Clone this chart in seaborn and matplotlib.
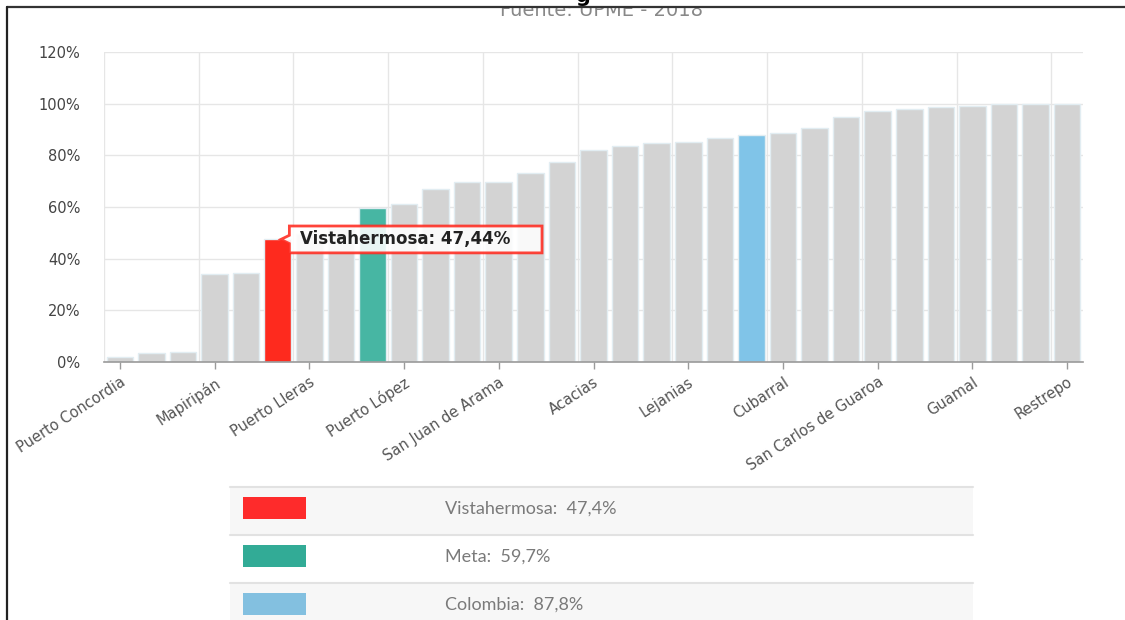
"""plot.py

Cobertura por municipio del Meta (Fuente: UPME - 2018), ordenada de menor a mayor,
con Vistahermosa, Meta y Colombia resaltados.
"""

# Third-party imports
import matplotlib.pyplot as plt
import matplotlib.patches as mpatches
import matplotlib.lines as mlines
from matplotlib.path import Path
import numpy as np
import seaborn as sns

# Data
municipios = ['Puerto Concordia', 'La Macarena', 'Uribe', 'Mapiripán', 'Puerto Gaitán',
              'Vistahermosa', 'Puerto Lleras', 'Puerto Rico', 'Meta', 'Puerto López',
              'Mesetas', 'El Dorado', 'San Juan de Arama', 'El Castillo', 'Cabuyaro',
              'Acacias', 'Fuente de Oro', 'Granada', 'Lejanias', 'San Martín',
              'Colombia', 'Cubarral', 'Barranca de Upía', 'El Calvario', 'San Carlos de Guaroa',
              'San Juanito', 'Cumaral', 'Guamal', 'Castilla La Nueva', 'Villavicencio',
              'Restrepo']
cobertura = [1.8, 3.6, 4.0, 34.1, 34.6,
             47.44, 49.5, 52.0, 59.7, 61.2,
             67.0, 69.6, 69.6, 73.2, 77.6,
             82.1, 83.8, 84.7, 85.2, 86.8,
             87.8, 88.7, 90.5, 94.8, 97.2,
             97.9, 98.8, 99.2, 99.7, 100.0,
             100.0]
etiquetas_y = ['0%', '20%', '40%', '60%', '80%', '100%', '120%']
resaltados = {'Vistahermosa': '#fe2a1e', 'Meta': '#47b6a3', 'Colombia': '#80c4e8'}
leyenda_nombres = ['Vistahermosa', 'Meta', 'Colombia']
leyenda_valores = ['47,4%', '59,7%', '87,8%']
leyenda_colores = ['#fe2b2b', '#32ab96', '#83c0e0']
tooltip_texto = 'Vistahermosa: 47,44%'
fuente = 'Fuente: UPME - 2018'

sns.set_style('white')
plt.rcParams['font.family'] = ['DejaVu Sans']

W, H = 1125, 620
fig = plt.figure(figsize=(W / 100, H / 100), dpi=100)
fig.patch.set_facecolor('white')

# Main chart area
ax = fig.add_axes([104 / W, (H - 362) / H, (1083 - 104) / W, 310 / H])
colores = [resaltados.get(m, '#d3d3d3') for m in municipios]
sns.barplot(x=municipios, y=cobertura, hue=municipios, palette=colores, legend=False,
            width=0.84, edgecolor='#e2edf2', linewidth=1, saturation=1, ax=ax)

ax.set_xlim(-0.5, len(municipios) - 0.5)
ax.set_ylim(0, 120)
ax.set_yticks(range(0, 121, 20))
ax.set_yticklabels(etiquetas_y)
ax.set_xticks(range(0, len(municipios), 3))
ax.set_xticklabels(municipios[::3], rotation=33, ha='right', va='top', rotation_mode='anchor')
ax.set_xticks(np.arange(-0.5, len(municipios), 3), minor=True)
ax.set(xlabel='', ylabel='')

ax.set_axisbelow(True)
ax.yaxis.grid(True, color='#e6e6e6', linewidth=1)
ax.xaxis.grid(True, which='minor', color='#e6e6e6', linewidth=1)
ax.xaxis.grid(False, which='major')
for side in ['left', 'top', 'right']:
    ax.spines[side].set_visible(False)
ax.spines['bottom'].set_color('#9a9a9a')
ax.spines['bottom'].set_linewidth(1.2)

ax.tick_params(axis='y', length=0, pad=17, labelsize=10.5, labelcolor='#444444')
ax.tick_params(axis='x', which='major', length=5, width=1, color='#9a9a9a',
               pad=4, labelsize=10.5, labelcolor='#555555', bottom=True)
ax.tick_params(axis='x', which='minor', length=0)

# Tooltip pointing at the highlighted municipality
idx = municipios.index('Vistahermosa')
val = cobertura[idx]
x0, x1 = idx + 0.37, idx + 8.37
y0, y1 = val - 5.2, val + 5.2
verts = [(x0, y0), (x1, y0), (x1, y1), (x0, y1), (x0, val + 1.6),
         (idx + 0.1, val), (x0, val - 1.6), (x0, y0)]
tooltip = mpatches.PathPatch(Path(verts, closed=True), facecolor='white', alpha=0.88,
                             edgecolor='#ff2a1f', linewidth=2, zorder=5)
ax.add_patch(tooltip)
ax.text(x0 + 0.33, val, tooltip_texto, fontsize=12, fontweight='bold',
        color='#222222', va='center', ha='left', zorder=6)

# Legend table below the chart
leg = fig.add_axes([0, 0, 1, 1], zorder=-1)
leg.set_xlim(0, W)
leg.set_ylim(H, 0)
leg.axis('off')
fondos = ['#f7f7f7', 'white', '#f7f7f7']
for i, (nombre, valor, color) in enumerate(zip(leyenda_nombres, leyenda_valores, leyenda_colores)):
    top = 487 + i * 48
    leg.add_patch(mpatches.Rectangle((230, top), 743, 48, facecolor=fondos[i], edgecolor='none'))
    leg.plot([230, 973], [top, top], color='#e2e2e2', linewidth=1.5)
    leg.add_patch(mpatches.Rectangle((243, top + 10), 63, 22, facecolor=color, edgecolor='none'))
    leg.text(445, top + 22, f'{nombre}:  {valor}', fontsize=13, color='#7a7a7a',
             family=['Lato', 'DejaVu Sans'], va='center', ha='left')

# Cut-off header at the top of the screenshot
fig.text(602 / W, 1 - 15.5 / H, fuente, fontsize=14, color='#888888',
         ha='center', va='baseline', zorder=1)
fig.add_artist(mpatches.Rectangle((0, 1 - 7.5 / H), 1, 7.5 / H, transform=fig.transFigure,
                                  facecolor='white', edgecolor='none', zorder=4))
fig.text(583 / W, 1 - 1.5 / H, 'g', fontsize=15, fontweight='bold', color='black',
         ha='center', va='baseline', zorder=6)

# Screenshot frame
fig.add_artist(mlines.Line2D([7 / W, 1], [1 - 7 / H, 1 - 7 / H], transform=fig.transFigure,
                             color='#333333', linewidth=1.6, zorder=7))
fig.add_artist(mlines.Line2D([7 / W, 7 / W], [0, 1 - 7 / H], transform=fig.transFigure,
                             color='#222222', linewidth=1.6, zorder=7))

fig.savefig('out.png', dpi=100, facecolor='white')
